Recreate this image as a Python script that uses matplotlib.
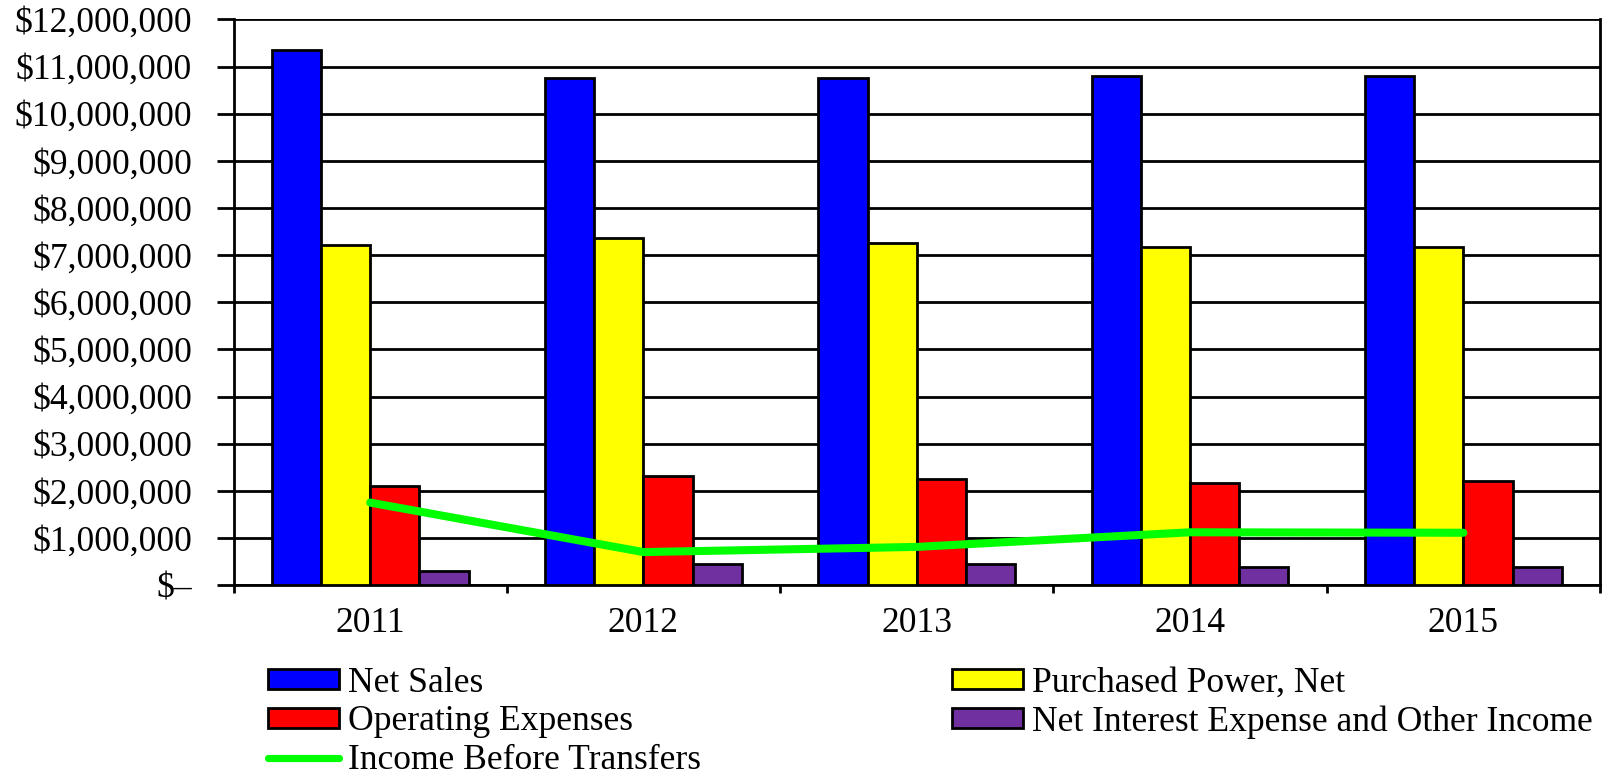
import matplotlib
matplotlib.use("Agg")
import matplotlib.pyplot as plt
from matplotlib.ticker import FuncFormatter, FixedLocator
from matplotlib.patches import Patch
from matplotlib.lines import Line2D
import numpy as np

years = ["2011", "2012", "2013", "2014", "2015"]
net_sales = [11350000, 10750000, 10750000, 10790000, 10790000]
purchased_power = [7220000, 7370000, 7260000, 7170000, 7170000]
operating_expenses = [2105000, 2310000, 2260000, 2160000, 2210000]
net_interest = [300000, 450000, 440000, 390000, 390000]
income_before = [1750000, 700000, 810000, 1120000, 1110000]

bar_series = [
    ("Net Sales", net_sales, "#0000FF"),
    ("Purchased Power, Net", purchased_power, "#FFFF00"),
    ("Operating Expenses", operating_expenses, "#FF0000"),
    ("Net Interest Expense and Other Income", net_interest, "#7030A0"),
]

plt.rcParams['font.family'] = ['Liberation Serif', 'DejaVu Serif']
FS = 25.6

fig = plt.figure(figsize=(16.06, 7.77), dpi=100)
ax = fig.add_axes([0.1454, 0.247, 0.9963 - 0.1454, 0.975 - 0.247])

x = np.arange(len(years))
w = 0.18
offsets = [-1.5, -0.5, 0.5, 1.5]
handles = {}
for (name, vals, col), off in zip(bar_series, offsets):
    ax.bar(x + off * w, vals, width=w, color=col, edgecolor="black",
           linewidth=2, zorder=3)
    handles[name] = Patch(facecolor=col, edgecolor="black", linewidth=2)

ax.plot(x, income_before, color="#00FF00", linewidth=5.8, solid_capstyle="round",
        solid_joinstyle="round", zorder=4)
handles["Income Before Transfers"] = Line2D([], [], color="#00FF00", linewidth=5.2,
                                            solid_capstyle="round")

ax.set_xlim(-0.5, len(years) - 0.5)
ax.set_ylim(0, 12000000)
ax.set_yticks(np.arange(0, 12000001, 1000000))
ax.yaxis.set_major_formatter(FuncFormatter(lambda v, p: "$\u2013" if v == 0 else f"${v:,.0f}"))
ax.grid(axis="y", color="black", linewidth=2, zorder=0)
ax.set_axisbelow(True)

ax.set_xticks(x)
ax.set_xticklabels(years)
ax.xaxis.set_minor_locator(FixedLocator(np.arange(-0.5, len(years), 1.0)))
ax.tick_params(axis="x", which="major", length=0, pad=16, labelsize=FS)
ax.tick_params(axis="x", which="minor", length=6, width=2, direction="out")
ax.tick_params(axis="y", which="major", length=12, width=2, direction="out", pad=18, labelsize=FS)

for s in ax.spines.values():
    s.set_linewidth(2)
    s.set_color("black")
ax.spines["top"].set_visible(False)

col1 = ["Net Sales", "Operating Expenses", "Income Before Transfers"]
col2 = ["Purchased Power, Net", "Net Interest Expense and Other Income"]
common = dict(frameon=False, loc="upper left", fontsize=FS, handlelength=2.0,
              handleheight=0.5, handletextpad=0.25, labelspacing=0.16,
              borderpad=0, borderaxespad=0)
fig.legend([handles[k] for k in col1], col1, bbox_to_anchor=(0.167, 0.142), **common)
fig.legend([handles[k] for k in col2], col2, bbox_to_anchor=(0.5925, 0.142), **common)

fig.savefig("out.png", dpi=100)
